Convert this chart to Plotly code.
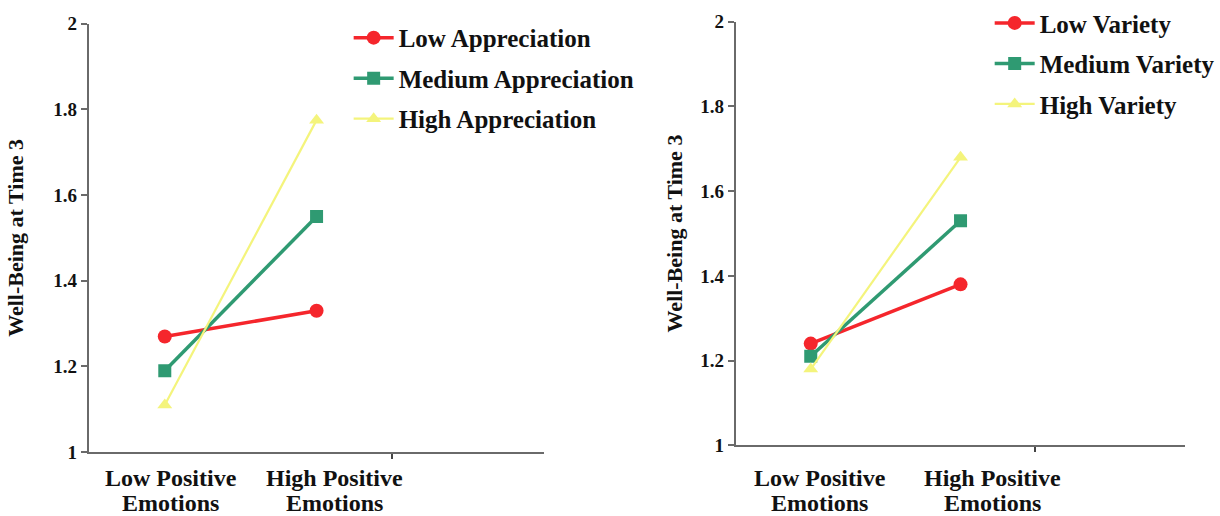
import plotly.graph_objects as go

# ---- data ----
x_pos = [0.5, 1.5]  # category positions on a 3-slot category axis
cat_line1 = ["Low Positive", "High Positive"]
cat_line2 = ["Emotions", "Emotions"]

appr_names = ["Low Appreciation", "Medium Appreciation", "High Appreciation"]
appr_low = [1.27, 1.33]
appr_med = [1.19, 1.55]
appr_high = [1.11, 1.775]

var_names = ["Low Variety", "Medium Variety", "High Variety"]
var_low = [1.24, 1.38]
var_med = [1.21, 1.53]
var_high = [1.18, 1.68]

y_ticks = [1, 1.2, 1.4, 1.6, 1.8, 2]
y_ticktext = ["1", "1.2", "1.4", "1.6", "1.8", "2"]

# ---- styles ----
RED = "#f5262c"
GREEN = "#2f9a72"
YELLOW = "#f4f47c"
FONT = "Liberation Serif"
styles = [
    dict(color=RED, symbol="circle", size=14, width=3.5),
    dict(color=GREEN, symbol="square", size=13, width=3.5),
    dict(color=YELLOW, symbol="triangle-up", size=13, width=2.2),
]

W, H = 1220, 516
fig = go.Figure()

def add_series(names, series, xa, ya, legend):
    for i, (nm, vals) in enumerate(zip(names, series)):
        s = styles[i]
        fig.add_trace(go.Scatter(
            x=x_pos, y=vals, name=nm, mode="lines+markers",
            line=dict(color=s["color"], width=s["width"]),
            marker=dict(color=s["color"], symbol=s["symbol"], size=s["size"]),
            xaxis=xa, yaxis=ya, legend=legend, legendgroup=legend + str(i),
        ))

add_series(appr_names, [appr_low, appr_med, appr_high], "x", "y", "legend")
add_series(var_names, [var_low, var_med, var_high], "x2", "y2", "legend2")

axis_common = dict(showline=True, linecolor="#6a6a6a", linewidth=2, showgrid=False,
                   zeroline=False, automargin=False)

def xaxis(domain, anchor):
    return dict(axis_common, domain=domain, anchor=anchor, range=[0, 3],
                tickvals=[2], ticks="outside", ticklen=5, tickcolor="#444", tickwidth=2,
                showticklabels=False, fixedrange=True)

def yaxis(domain, anchor, standoff):
    return dict(axis_common, domain=domain, anchor=anchor, range=[1, 2],
                tickvals=y_ticks, ticktext=y_ticktext, ticks="outside", ticklen=6,
                tickcolor="#6a6a6a", tickwidth=2,
                tickfont=dict(family=FONT, size=19, color="#111", weight="bold"),
                title=dict(text="Well-Being at Time 3",
                           font=dict(family=FONT, size=22, color="#111", weight="bold"),
                           standoff=standoff),
                fixedrange=True)

legend_font = dict(family=FONT, size=25, color="#111", weight="bold")

fig.update_layout(
    width=W, height=H,
    margin=dict(l=0, r=0, t=0, b=0),
    paper_bgcolor="white", plot_bgcolor="white",
    font=dict(family=FONT, color="#111"),
    xaxis=xaxis([90 / W, 551 / W], "y"),
    yaxis=yaxis([1 - 451 / H, 1 - 15 / H], "x", 24),
    xaxis2=xaxis([745 / W, 1200 / W], "y2"),
    yaxis2=yaxis([1 - 444 / H, 1 - 13 / H], "x2", 12),
    legend=dict(x=353 / W, y=1 - 6 / H, xanchor="left", yanchor="top",
                font=legend_font, tracegroupgap=5, bgcolor="rgba(0,0,0,0)",
                itemwidth=40),
    legend2=dict(x=1002 / W, y=1 + 9 / H, xanchor="left", yanchor="top",
                 font=legend_font, tracegroupgap=5, bgcolor="rgba(0,0,0,0)",
                 itemwidth=40),
)

# two-line category labels under each x axis
label_x = {"x": [0.54, 1.62], "x2": [0.56, 1.71]}
ann_font = dict(family=FONT, size=24, color="#111", weight="bold")
for xref in ("x", "x2"):
    for xv, l1, l2 in zip(label_x[xref], cat_line1, cat_line2):
        for txt, ypx in ((l1, 477), (l2, 503)):
            fig.add_annotation(x=xv, xref=xref, y=1 - ypx / H, yref="paper",
                               text=txt, showarrow=False, font=ann_font,
                               xanchor="center", yanchor="middle")

fig.write_html(
    "out.html",
    config={"displayModeBar": False},
    post_script="document.body.style.margin='0';document.body.style.overflow='hidden';"
                "document.documentElement.style.overflow='hidden';",
)
